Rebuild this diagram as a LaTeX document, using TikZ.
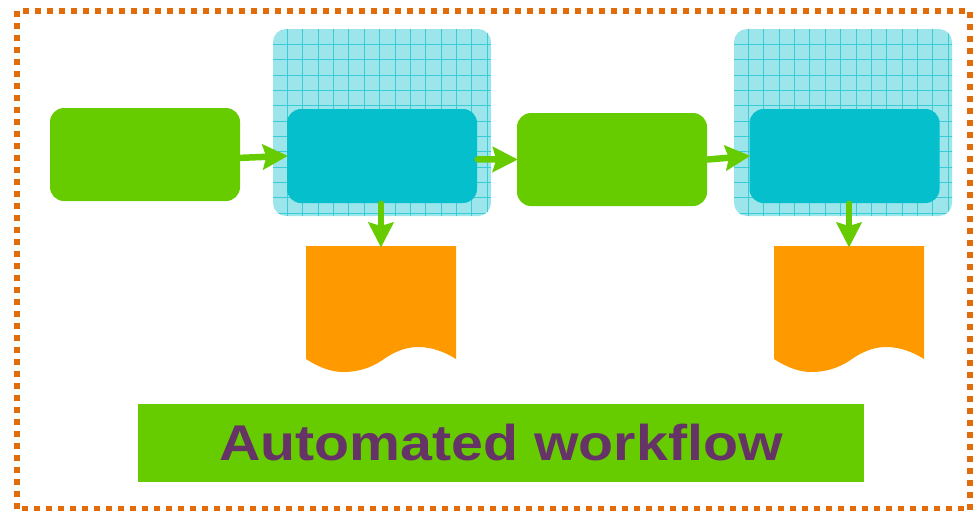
\documentclass[tikz,border=0pt]{standalone}
\usepackage{fontspec}
\setmainfont{Liberation Sans}
\newfontfamily\bannerfont[FakeStretch=1.14]{Liberation Sans}
\usetikzlibrary{arrows.meta}
\definecolor{leaf}{HTML}{66CC00}
\definecolor{teal}{HTML}{05BFCC}
\definecolor{paper}{HTML}{FF9900}
\definecolor{plum}{HTML}{663366}
\definecolor{rust}{HTML}{E36C0A}
\tikzset{
  greenbox/.style={fill=leaf,rounded corners=0.14cm,minimum width=1.9cm,minimum height=0.93cm,inner sep=0pt},
  tealbox/.style={fill=teal,rounded corners=0.14cm,minimum width=1.9cm,minimum height=0.94cm,inner sep=0pt},
  gridline/.style={teal!80,line width=0.25pt},
  gridbox/.style={fill=teal!40,rounded corners=0.13cm,minimum width=2.18cm,minimum height=1.87cm,inner sep=0pt,
    path picture={
      \foreach \i in {0,...,13} \draw [gridline] (path picture bounding box.north west) ++(0.143+\i*0.1538,0) -- ++(0,-1.87);
      \foreach \i in {0,...,11} \draw [gridline] (path picture bounding box.north west) ++(0,-0.153-\i*0.1535) -- ++(2.18,0);
    }},
  flow/.style={leaf,line width=0.065cm,line cap=round,shorten >=-0.015cm,-{Stealth[length=0.25cm,width=0.25cm,inset=0.035cm]}},
  dotline/.style={rust,line width=0.06cm,dash pattern=on 0.06cm off 0.06cm},
}
\begin{document}
\begin{tikzpicture}
   \useasboundingbox (0,0) rectangle (9.77,5.10);
   \draw [dotline] (0.23,4.99) -- (9.70,4.99);
   \draw [dotline] (9.70,4.98) -- (9.70,0);
   \draw [dotline] (0.22,0.01) -- (9.65,0.01);
   \draw [dotline] (0.17,4.99) -- (0.17,0.01);
   \node [gridbox] (gridA) at (3.82,3.875) {};
   \node [gridbox] (gridB) at (8.43,3.875) {};
   \node [greenbox] (sourceA) at (1.45,3.555) {};
   \node [tealbox] (toolA) at (3.82,3.54) {};
   \node [greenbox] (sourceB) at (6.12,3.505) {};
   \node [tealbox] (toolB) at (8.445,3.54) {};
   \foreach \dx/\name in {0/docA,4.68/docB} {
     \fill [paper,shift={(\dx,0)}] (3.06,2.64) -- (4.56,2.64) -- (4.56,1.51)
       .. controls (4.45,1.58) and (4.32,1.63) .. (4.18,1.63)
       .. controls (4.04,1.63) and (3.92,1.57) .. (3.81,1.49)
       .. controls (3.70,1.42) and (3.58,1.38) .. (3.43,1.38)
       .. controls (3.32,1.38) and (3.20,1.42) .. (3.06,1.51) -- cycle;
     \coordinate (\name) at (3.81+\dx,2.64);
   }
   \draw [flow] (sourceA.-2) -- (toolA.west);
   \draw [flow] (toolA.-2) -- (sourceB.west);
   \draw [flow] (sourceB.east) -- (toolB.west);
   \draw [flow] (toolA.south -| docA) -- (docA);
   \draw [flow] (toolB.south -| docB) -- (docB);
   \node [fill=leaf,minimum width=7.26cm,minimum height=0.78cm,inner sep=0pt,text=plum] (banner) at (5.01,0.67) {\bannerfont\fontsize{14.3}{17}\selectfont\bfseries Automated workflow};
  \end{tikzpicture}
\end{document}
